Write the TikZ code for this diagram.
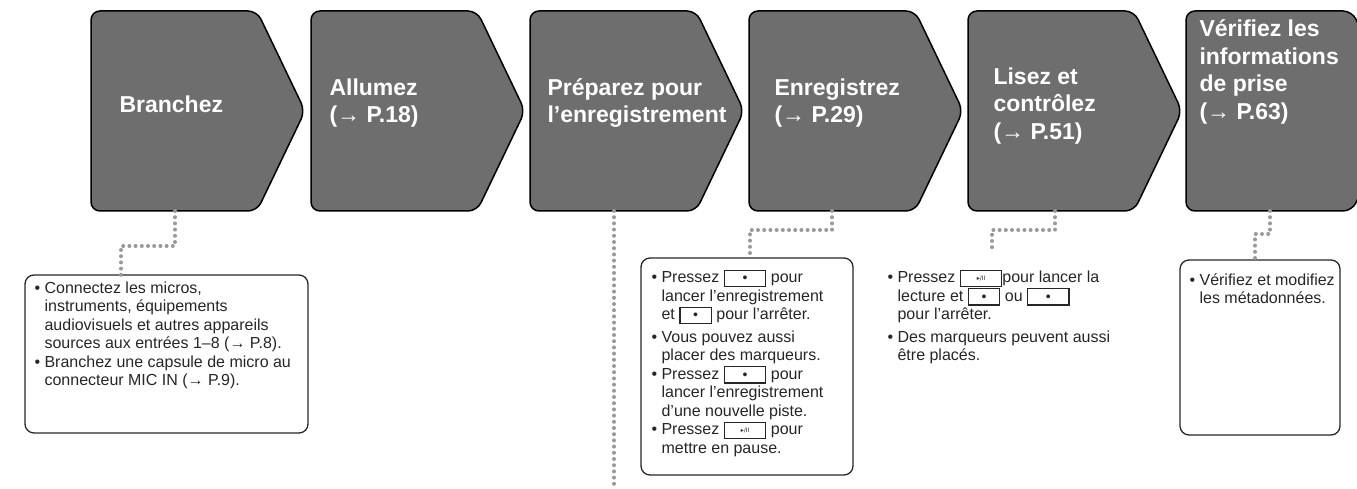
\documentclass[tikz,border=0pt]{standalone}
\usepackage{fontspec}
\setmainfont{Liberation Sans}
\newfontfamily\djvfont{DejaVu Sans}
\newcommand\bx[2][40pt]{\raisebox{-3pt}{\setlength\fboxsep{0pt}\setlength\fboxrule{1.3pt}\fbox{\makebox[#1]{\rule{0pt}{15pt}#2}}}}
\newcommand\dotc{\raisebox{3pt}{\fontsize{14}{14}\selectfont\textbullet}}
\newcommand\rec{\bx{\dotc}}
\newcommand\recs{\bx[30pt]{\dotc}}
\newcommand\ply{\bx{\raisebox{5pt}{\djvfont\fontsize{6}{6}\selectfont ▸/II}}}
\newcommand\ind{\phantom{•\ }}
\begin{document}
\begin{tikzpicture}[x=1pt,y=-1pt,
  stepshape/.style={fill=black!57,draw=black,line width=1.5pt,rounded corners=9pt},
  head/.style={anchor=west,text=white,font=\fontsize{23}{27.5}\selectfont\bfseries,align=left},
  txt/.style={anchor=north west,font=\fontsize{16}{18.5}\selectfont,align=left,text=black!85},
  box/.style={draw=black!85,line width=1.3pt,rounded corners=9pt},
  dots/.style={draw=black!40,line width=4pt,line cap=round,dash pattern=on 0pt off 6.2pt}]
\useasboundingbox (0,0) rectangle (1357,489);
\foreach \L/\n in {91/s1,311/s2,530/s3,749/s4,968/s5,1186/s6}{
  \draw[stepshape] (\L,11) -- (\L+166,11) -- (\L+214,111) -- (\L+166,211) -- (\L,211) -- cycle;
  \coordinate (\n) at (\L,111);
}
\node[head] (h1) at ([xshift=25pt,yshift=7pt]s1) {Branchez};
\node[head] (h2) at ([xshift=15pt,yshift=8pt]s2) {Allumez\\(→ P.18)};
\node[head] (h3) at ([xshift=14pt,yshift=8pt]s3) {Préparez pour\\l’enregistrement};
\node[head] (h4) at ([xshift=22pt,yshift=8pt]s4) {Enregistrez\\(→ P.29)};
\node[head] (h5) at ([xshift=22pt,yshift=5pt]s5) {Lisez et\\contrôlez\\(→ P.51)};
\node[head] (h6) at ([xshift=10pt,yshift=39pt]s6) {Vérifiez les\\informations\\de prise\\(→ P.63)};
% boxes
\draw[box] (25,275) rectangle (308,433);
\coordinate (b1) at (121,275);
\node[txt] (t1) at (31,278) {• Connectez les micros,\\\ind instruments, équipements\\\ind audiovisuels et autres appareils\\\ind sources aux entrées 1–8 (→ P.8).\\• Branchez une capsule de micro au\\\ind connecteur MIC IN (→ P.9).};
\draw[box] (641,258) rectangle (853,475);
\coordinate (b2) at (750,258);
\node[txt] (t2) at (648,266) {• Pressez \rec\ pour\\\ind lancer l’enregistrement\\\ind et \recs\ pour l’arrêter.\\[4pt]• Vous pouvez aussi\\\ind placer des marqueurs.\\• Pressez \rec\ pour\\\ind lancer l’enregistrement\\\ind d’une nouvelle piste.\\• Pressez \ply\ pour\\\ind mettre en pause.};
\coordinate (b3) at (992,253);
\node[txt] (t3) at (884,266) {• Pressez \ply pour lancer la\\\ind lecture et \recs\ ou \rec\\\ind pour l’arrêter.\\[4pt]• Des marqueurs peuvent aussi\\\ind être placés.};
\draw[box] (1180,260) rectangle (1340,435);
\coordinate (b4) at (1255,260);
\node[txt] (t4) at (1186,270) {• Vérifiez et modifiez\\\ind les métadonnées.};
% connectors
\coordinate (c1) at (175,211); \coordinate (c3) at (614,211);
\coordinate (c4) at (832,211); \coordinate (c5) at (1055,211); \coordinate (c6) at (1270,211);
\coordinate (e3) at (614,489);
\draw[dots] (c1) |- (121,246) -- (b1);
\draw[dots] (c3) -- (e3);
\draw[dots] (c4) |- (750,230) -- (b2);
\draw[dots] (c5) |- (992,230) -- (b3);
\draw[dots] (c6) |- (1255,234) -- (b4);
\end{tikzpicture}
\end{document}
